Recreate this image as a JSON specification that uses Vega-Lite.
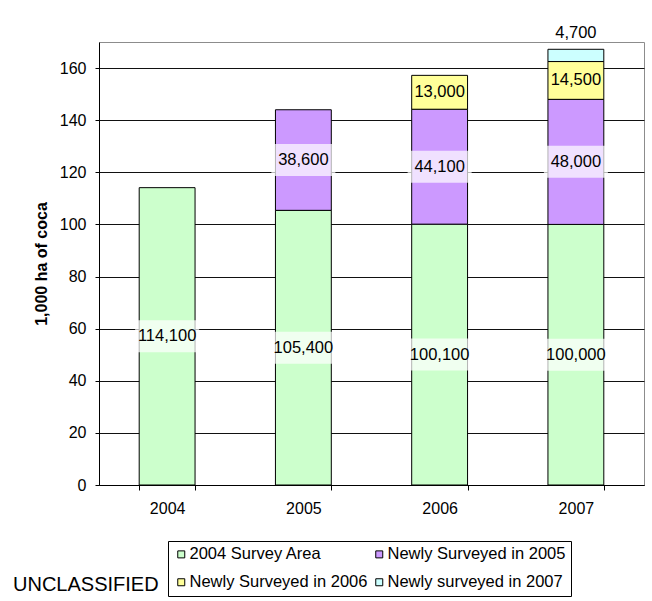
{
  "$schema": "https://vega.github.io/schema/vega-lite/v6.json",
  "width": 545,
  "height": 443,
  "autosize": "none",
  "padding": {"left": 99, "top": 42, "right": 8, "bottom": 116},
  "background": "white",
  "config": {
    "font": "Liberation Sans",
    "view": {"stroke": "#8c8c8c", "strokeWidth": 1},
    "axis": {"labelFont": "Liberation Sans", "labelFontSize": 16, "labelColor": "#000", "domainColor": "#000", "tickColor": "#000", "titleColor": "#000", "titleFont": "Liberation Sans"},
    "axisY": {"tickSize": 4, "labelPadding": 9, "grid": true, "gridColor": "#111", "gridOpacity": 1, "titleFontSize": 16, "titleFontWeight": "bold", "titlePadding": 10},
    "axisX": {"tickBand": "extent", "tickSize": 5, "labelPadding": 10, "labelAngle": 0, "grid": false},
    "legend": {"labelFont": "Liberation Sans", "labelFontSize": 16.5, "labelColor": "#000", "labelLimit": 400},
    "title": {"fontWeight": "normal"}
  },
  "title": {"text": "UNCLASSIFIED", "orient": "bottom", "anchor": "start", "frame": "group", "fontSize": 20, "fontWeight": "normal", "color": "#000", "font": "Liberation Sans", "offset": -22, "dx": -86},
  "data": {
    "values": [
      {"year": "2004", "series": "2004 Survey Area", "idx": 1, "value": 114.1, "label": "114,100"},
      {"year": "2005", "series": "2004 Survey Area", "idx": 1, "value": 105.4, "label": "105,400"},
      {"year": "2005", "series": "Newly Surveyed in 2005", "idx": 2, "value": 38.6, "label": "38,600"},
      {"year": "2006", "series": "2004 Survey Area", "idx": 1, "value": 100.1, "label": "100,100"},
      {"year": "2006", "series": "Newly Surveyed in 2005", "idx": 2, "value": 44.1, "label": "44,100"},
      {"year": "2006", "series": "Newly Surveyed in 2006", "idx": 3, "value": 13.0, "label": "13,000"},
      {"year": "2007", "series": "2004 Survey Area", "idx": 1, "value": 100.0, "label": "100,000"},
      {"year": "2007", "series": "Newly Surveyed in 2005", "idx": 2, "value": 48.0, "label": "48,000"},
      {"year": "2007", "series": "Newly Surveyed in 2006", "idx": 3, "value": 14.5, "label": "14,500"},
      {"year": "2007", "series": "Newly surveyed in 2007", "idx": 4, "value": 4.7, "label": "4,700"}
    ]
  },
  "encoding": {
    "x": {"field": "year", "type": "ordinal", "title": null, "scale": {"paddingInner": 0.59, "paddingOuter": 0.295}}
  },
  "layer": [
    {
      "mark": {"type": "bar", "stroke": "#000", "strokeWidth": 1},
      "encoding": {
        "y": {"field": "value", "type": "quantitative", "stack": "zero", "title": "1,000 ha of coca", "scale": {"domain": [0, 170], "nice": false}, "axis": {"values": [0, 20, 40, 60, 80, 100, 120, 140, 160]}},
        "color": {
          "field": "series", "type": "nominal",
          "scale": {"domain": ["2004 Survey Area", "Newly Surveyed in 2005", "Newly Surveyed in 2006", "Newly surveyed in 2007"], "range": ["#ccffcc", "#cc99ff", "#ffff99", "#ccffff"]},
          "legend": {"orient": "none", "legendX": 69, "legendY": 499, "direction": "horizontal", "columns": 2, "title": null, "symbolType": "square", "symbolSize": 49, "symbolStrokeColor": "#000", "symbolStrokeWidth": 1, "labelOffset": 0, "columnPadding": 3, "rowPadding": 11, "padding": 5, "strokeColor": "#000", "fillColor": "#fff"}
        },
        "order": {"field": "idx", "type": "quantitative"}
      }
    },
    {
      "mark": {"type": "point", "shape": "M-1,-0.5H1V0.5H-1Z", "size": 4096, "filled": true, "fill": "#fff", "strokeWidth": 0},
      "encoding": {
        "y": {"field": "value", "type": "quantitative", "stack": "zero", "bandPosition": 0.5, "title": "1,000 ha of coca"},
        "detail": {"field": "series"},
        "order": {"field": "idx", "type": "quantitative"},
        "opacity": {"condition": {"test": "datum.idx <= 2", "value": 0.7}, "value": 0}
      }
    },
    {
      "mark": {"type": "text", "fontSize": 16.5, "color": "#000", "font": "Liberation Sans"},
      "encoding": {
        "y": {"field": "value", "type": "quantitative", "stack": "zero", "bandPosition": 0.5, "title": "1,000 ha of coca"},
        "detail": {"field": "series"},
        "order": {"field": "idx", "type": "quantitative"},
        "text": {"field": "label"},
        "opacity": {"condition": {"test": "datum.idx == 4", "value": 0}, "value": 1}
      }
    },
    {
      "mark": {"type": "text", "fontSize": 16.5, "color": "#000", "font": "Liberation Sans", "dy": -16},
      "encoding": {
        "y": {"field": "value", "type": "quantitative", "stack": "zero", "bandPosition": 1, "title": "1,000 ha of coca"},
        "detail": {"field": "series"},
        "order": {"field": "idx", "type": "quantitative"},
        "text": {"field": "label"},
        "opacity": {"condition": {"test": "datum.idx == 4", "value": 1}, "value": 0}
      }
    }
  ]
}
